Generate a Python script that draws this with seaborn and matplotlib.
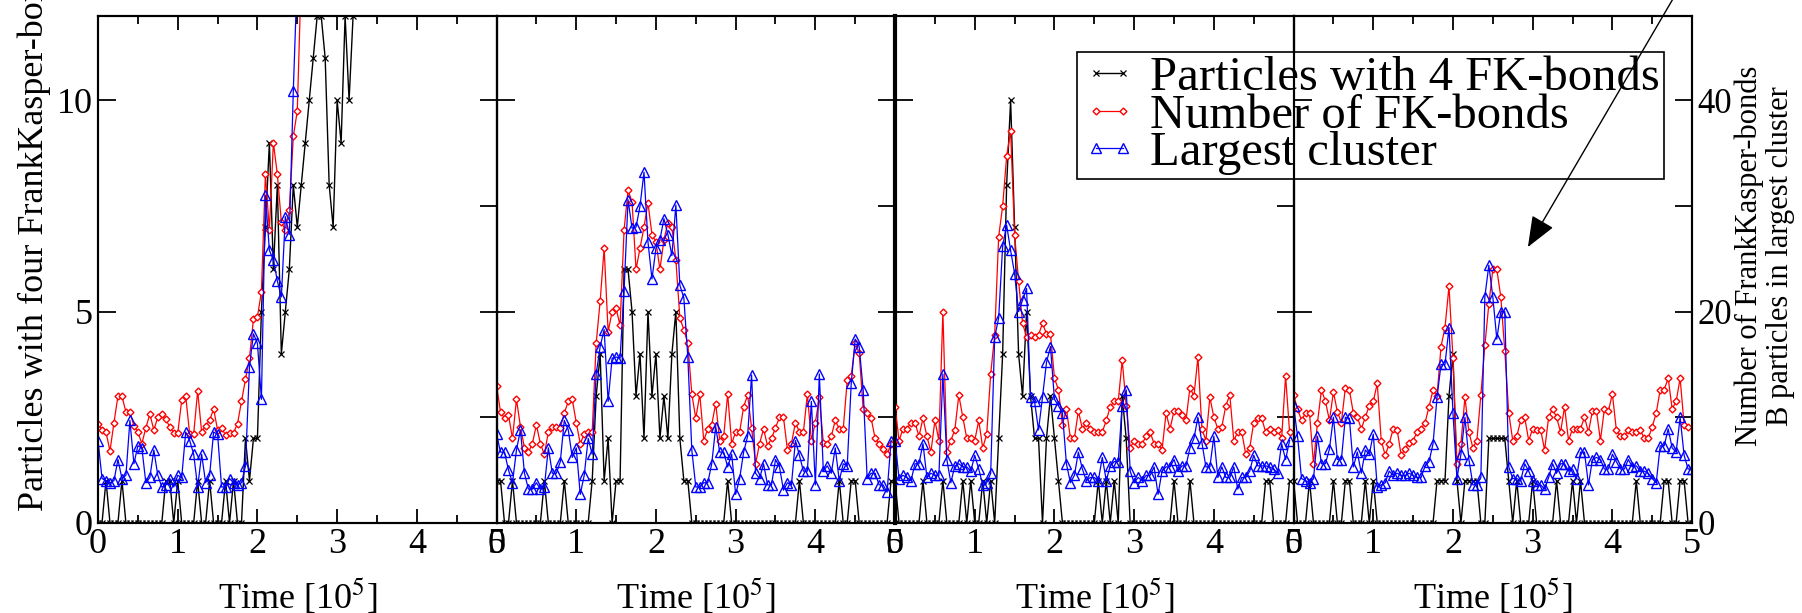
import numpy as np
import matplotlib
matplotlib.use('Agg')
import matplotlib.pyplot as plt
from matplotlib.ticker import MultipleLocator, FixedLocator
import seaborn as sns

plt.rcParams['font.family'] = ['Liberation Serif', 'DejaVu Serif']
plt.rcParams['mathtext.fontset'] = 'stix'
plt.rcParams['axes.linewidth'] = 1.5

DT = 0.05  # sampling step, in units of 1e5 time steps

# ---- panel 1 ----
p1_fk4 = [0, 0, 1, 0, 0, 0, 1, 0, 0, 0, 0, 0, 0, 0, 0, 0, 0, 1, 1, 0,
          1, 0, 0, 0, 0, 1, 0, 0, 1, 0, 0, 0, 1, 0, 1, 0, 0, 2, 1, 2,
          2, 5, 7, 9, 6, 8, 4, 5, 6, 8, 7, 8, 9, 10, 11, 12, 12, 11, 8, 7,
          10, 9, 12, 10, 12]
p1_bonds = [9.4, 8.8, 8.6, 6.8, 9.5, 12, 12, 10.5, 10.5, 9.2,
            8.6, 7.5, 9, 10.3, 8.8, 10, 10.3, 9.8, 9.1, 8.5,
            8.5, 11.6, 12, 8.4, 8.4, 12.5, 8.6, 9.2, 9.7, 10.8,
            8.8, 9, 8.3, 8.5, 8.5, 9.4, 11.5, 13.6, 15.6, 19.3,
            19.5, 21.9, 33, 27.7, 36, 33, 28.5, 27.7, 29.6, 36.6,
            39, 52]
p1_cluster = [7.8, 4.2, 4.0, 3.8, 4.0, 6.0, 4.2, 4.5, 9.7, 5.6,
              7.3, 7.1, 3.8, 4.3, 6.9, 4.5, 3.4, 3.6, 4.2, 3.4,
              4.5, 4.3, 8.6, 7.8, 6.5, 3.4, 6.5, 3.8, 4.5, 8.6,
              8.4, 3.4, 3.4, 4.2, 3.8, 3.6, 3.8, 5.4, 14.8, 17.9,
              17, 11.7, 31, 25.8, 24.9, 22.9, 21.4, 29, 27.3, 40.9,
              52]

# ---- panel 2 ----
p2_fk4 = [1, 1, 0, 0, 1, 0, 0, 0, 0, 0, 0, 0, 1, 0, 0, 0, 0, 1, 0, 0,
          0, 0, 0, 0, 1, 3, 4, 1, 2, 0, 1, 1, 6, 6, 5, 3, 4, 2, 5, 3,
          4, 2, 3, 2, 4, 5, 2, 1, 1, 0, 0, 0, 0, 0, 0, 0, 0, 0, 1, 0,
          0, 0, 0, 0, 0, 0, 0, 0, 0, 0, 0, 0, 0, 0, 0, 0, 1, 0, 0, 0,
          0, 0, 0, 0, 0, 0, 1, 0, 0, 1, 1, 0, 0, 0, 0, 0, 0, 0, 0, 1]
p2_bonds = [13.0, 10.5, 9.9, 10.2, 8.0, 11.7, 9.1, 7.1, 6.7, 7.5,
            9.3, 7.5, 6.5, 8.6, 9.1, 9.1, 9.0, 10.4, 11.5, 11.7,
            9.5, 7.5, 8.4, 8.6, 8.6, 17, 21, 26, 18.1, 20,
            20.3, 18.7, 27.7, 31.5, 30.4, 24, 26, 28, 30.3, 27.3,
            26.6, 24, 26.8, 28.4, 28, 24.9, 19.4, 18.3, 17, 12.2,
            9.9, 12.2, 7.8, 8.9, 9.3, 11.3, 7.8, 8.2, 12.2, 7.5,
            8.6, 8.6, 11.0, 12.1, 9.0, 5.6, 7.5, 8.9, 7.3, 8.0,
            9.0, 10, 10, 6.9, 7.5, 9.5, 8.6, 8.6, 12.2, 7.8,
            9.5, 11.9, 7.6, 7.5, 8.2, 9.7, 8.9, 8.9, 13.5, 13.9,
            17, 16.1, 10.8, 10.4, 9.9, 8.0, 7.5, 7.0, 6.5, 7.5]
p2_cluster = [8.4, 6.7, 6.7, 5.0, 3.8, 6.9, 8.8, 4.7, 3.2, 3.2,
              3.8, 3.2, 3.4, 7.1, 4.7, 4.7, 5.8, 9.7, 8.8, 6.2,
              7.1, 2.7, 4.5, 8.0, 6.5, 14.1, 16.7, 18.3, 11.5, 15.6,
              15.7, 15.6, 22, 30.6, 27.9, 28, 30, 33.2, 26.6, 23.1,
              26, 26.8, 28.8, 27.3, 25.3, 30.1, 22.5, 21.3, 15.7, 6.9,
              3.4, 3.4, 3.8, 3.8, 5.6, 9.1, 6.7, 6.7, 5.3, 6.5,
              2.7, 4.2, 6.7, 8.2, 14.0, 4.7, 4.2, 5.6, 3.6, 3.6,
              6.0, 5.3, 3.1, 3.8, 3.6, 7.8, 6.4, 4.9, 4.9, 11.5,
              3.6, 14.1, 4.9, 5.4, 4.7, 7.1, 4.0, 5.6, 5.4, 13.2,
              17.4, 16.7, 12.6, 4.2, 4.7, 4.7, 3.6, 3.6, 2.9, 7.8]

# ---- panel 3 ----
p3_fk4 = [1, 0, 0, 0, 0, 0, 0, 1, 0, 0, 0, 0, 1, 0, 0, 0, 0, 1, 0, 1,
          0, 0, 1, 0, 1, 0, 2, 4, 8, 10, 7, 4, 3, 5, 3, 2, 2, 0, 2, 3,
          2, 1, 0, 0, 0, 0, 0, 0, 0, 0, 0, 1, 0, 1, 0, 1, 0, 3, 2, 0,
          0, 0, 0, 0, 0, 0, 0, 0, 0, 0, 1, 0, 0, 0, 1, 0, 0, 0, 0, 0,
          0, 0, 0, 0, 0, 0, 0, 0, 0, 0, 0, 0, 0, 1, 1, 0, 0, 0, 0, 1]
p3_bonds = [11.0, 7.8, 8.9, 8.9, 9.5, 9.5, 8.2, 9.9, 8.2, 6.7,
            9.7, 7.8, 20, 6.7, 7.8, 8.8, 12.1, 10, 8.0, 8.0,
            7.8, 9.7, 7.1, 8.4, 14.1, 17.8, 27.1, 30, 34.7, 37.1,
            27.3, 22.9, 18.9, 17.6, 17.8, 17.6, 17.8, 18.9, 17.9, 17.9,
            13.7, 12.6, 9.3, 10.8, 8.0, 8.0, 10.6, 8.9, 9.5, 8.9,
            8.6, 8.6, 8.6, 9.7, 11.0, 11.5, 11.5, 15.4, 11.1, 7.1,
            7.8, 7.5, 7.5, 8.2, 8.6, 7.5, 7.5, 6.9, 10.4, 8.9,
            10.6, 10.6, 10.2, 9.7, 12.8, 12.0, 15.7, 8.9, 7.8, 11.9,
            10.0, 8.9, 9.1, 11.1, 12.1, 7.8, 8.6, 8.6, 6.5, 7.1,
            9.5, 9.9, 9.9, 8.6, 8.9, 8.6, 8.8, 8.0, 13.9, 8.6]
p3_cluster = [7.8, 4.2, 4.5, 4.3, 4.0, 5.6, 5.6, 7.5, 4.3, 4.7,
              4.5, 4.5, 14.1, 6.0, 3.8, 5.4, 5.6, 5.3, 5.3, 4.9,
              6.4, 5.1, 3.6, 3.8, 4.7, 17.6, 19.4, 26.2, 28.2, 25.8,
              23.6, 20, 21.1, 22.2, 11.9, 11.5, 8.8, 11.9, 15.2, 16.7,
              11.7, 11.1, 10.4, 5.6, 3.8, 4.5, 6.7, 5.1, 4.0, 4.3,
              4.3, 4.0, 6.2, 4.0, 5.4, 5.8, 5.8, 11.1, 12.6, 4.9,
              3.8, 4.3, 4.0, 4.5, 4.5, 5.3, 2.7, 4.9, 5.3, 5.3,
              6.0, 4.9, 5.4, 5.4, 7.1, 8.0, 10.0, 7.6, 5.3, 5.3,
              8.2, 4.3, 5.3, 4.3, 4.3, 5.3, 3.2, 4.3, 4.3, 4.9,
              6.4, 5.4, 5.4, 5.4, 5.3, 5.1, 4.7, 7.5, 6.0, 7.8]

# ---- panel 4 ----
p4_fk4 = [1, 0, 0, 0, 1, 0, 0, 0, 0, 0, 1, 0, 0, 1, 1, 0, 0, 0, 1, 0,
          1, 0, 0, 0, 0, 0, 0, 0, 0, 0, 0, 0, 0, 0, 0, 0, 1, 1, 1, 3,
          4, 1, 0, 1, 1, 1, 1, 0, 0, 2, 2, 2, 2, 2, 1, 0, 1, 0, 0, 0,
          1, 0, 0, 0, 0, 0, 1, 0, 0, 0, 1, 0, 1, 0, 0, 0, 0, 0, 0, 0,
          0, 0, 0, 0, 0, 0, 1, 0, 0, 0, 0, 0, 0, 1, 1, 0, 0, 1, 1, 0, 0]
p4_bonds = [12.1, 10.8, 9.7, 10.4, 10.4, 5.6, 9.5, 12.6, 11.5, 9.7,
            12.4, 10.5, 9.5, 12.8, 12.6, 10.4, 10.0, 8.9, 10.0, 11.1,
            11.5, 13.2, 7.8, 6.4, 7.5, 8.9, 8.8, 6.4, 7.0, 7.6,
            7.8, 8.6, 8.9, 9.5, 11.0, 12.6, 12.0, 16.7, 18.5, 22.4,
            15.6, 5.6, 7.5, 11.9, 8.6, 7.1, 7.8, 12.1, 16.8, 20.7,
            24.0, 24.0, 21.4, 16.3, 10.4, 7.8, 8.2, 9.7, 10.0, 7.8,
            8.9, 8.8, 8.8, 6.9, 10.0, 10.8, 10.0, 8.6, 11.0, 7.8,
            8.9, 8.9, 8.9, 10.0, 8.6, 10.6, 10.6, 7.8, 10.8, 10.6,
            12.2, 8.8, 8.2, 8.2, 8.8, 8.6, 8.6, 8.8, 8.0, 8.0,
            9.1, 10.4, 12.6, 12.6, 13.7, 10.8, 11.5, 13.7, 9.3, 9.1]
p4_cluster = [11.1, 8.2, 4.2, 4.0, 3.8, 4.2, 8.2, 5.6, 5.6, 7.0,
              10.0, 6.0, 6.0, 10.0, 9.9, 5.3, 6.7, 4.7, 6.9, 6.5,
              8.4, 3.4, 3.6, 3.8, 4.9, 4.5, 4.7, 4.5, 4.5, 4.7,
              4.5, 4.3, 4.3, 5.4, 5.8, 7.5, 11.9, 15.0, 15.0, 18.5,
              10.4, 4.2, 6.5, 10.0, 6.0, 3.6, 3.6, 4.3, 21.4, 24.4,
              21.4, 17.4, 20, 20, 5.3, 4.2, 4.2, 4.0, 5.6, 4.9,
              4.0, 3.6, 3.6, 3.2, 4.3, 5.6, 4.7, 5.6, 5.6, 4.9,
              5.1, 4.2, 6.7, 6.7, 3.6, 6.0, 6.2, 6.0, 5.1, 5.1,
              6.5, 5.8, 5.1, 5.1, 6.0, 5.3, 5.4, 4.9, 4.9, 4.7,
              4.2, 3.8, 7.3, 7.3, 8.9, 7.1, 6.7, 10.0, 6.4, 5.1,
              5.1]

panels = [(p1_fk4, p1_bonds, p1_cluster),
          (p2_fk4, p2_bonds, p2_cluster),
          (p3_fk4, p3_bonds, p3_cluster),
          (p4_fk4, p4_bonds, p4_cluster)]

labels = ['Particles with 4 FK-bonds', 'Number of FK-bonds', 'Largest cluster']
x_ticks = [0, 1, 2, 3, 4, 5]
left_ticks = [0, 5, 10]
right_ticks = [0, 20, 40]


def times(values):
    return np.arange(len(values)) * DT


fig = plt.figure(figsize=(18.02, 6.13), dpi=100, facecolor='white')
gs = fig.add_gridspec(1, 4, left=0.0544, right=0.939, bottom=0.147,
                      top=0.974, wspace=0)

axes = []
for i, (fk4, bonds, cluster) in enumerate(panels):
    ax = fig.add_subplot(gs[0, i])
    tw = ax.twinx()
    ax.set_facecolor('none')

    sns.lineplot(x=times(fk4), y=fk4, ax=ax, color='black', linewidth=1.0,
                 marker='x', markersize=4, markeredgecolor='black',
                 markeredgewidth=0.9, legend=False, errorbar=None, estimator=None)
    sns.lineplot(x=times(bonds), y=bonds, ax=tw, color='red', linewidth=0.9,
                 marker='D', markersize=3.5, markeredgecolor='red',
                 markerfacecolor='white', markeredgewidth=1.0,
                 legend=False, errorbar=None, estimator=None)
    sns.lineplot(x=times(cluster), y=cluster, ax=tw, color='blue', linewidth=0.9,
                 marker='^', markersize=7, markeredgecolor='blue',
                 markerfacecolor='none', markeredgewidth=1.0,
                 legend=False, errorbar=None, estimator=None)

    ax.set_xlim(0, 5)
    ax.set_ylim(0, 12)
    tw.set_ylim(0, 48)
    ax.set_xticks(x_ticks)
    ax.xaxis.set_minor_locator(MultipleLocator(0.5))
    ax.set_yticks(left_ticks)
    tw.set_yticks(right_ticks)
    tw.yaxis.set_minor_locator(FixedLocator([10, 30]))

    ax.tick_params(axis='x', which='both', direction='in', top=True, bottom=True,
                   width=1.3, labelsize=26, pad=4)
    ax.tick_params(axis='x', which='major', length=10)
    ax.tick_params(axis='x', which='minor', length=6)
    ax.tick_params(axis='y', which='both', direction='in', left=True, right=False,
                   length=13, width=1.3, labelsize=26, pad=4, labelleft=(i == 0))
    tw.tick_params(axis='y', which='both', direction='in', length=12, width=1.3,
                   labelsize=25, pad=4, labelright=(i == 3))

    ax.set_xlabel('Time [10$^5$]', fontsize=26, labelpad=11)
    ax.set_ylabel('')
    tw.set_ylabel('')

    if i == 2:
        ax.spines['left'].set_linewidth(3)
        handles = [ax.lines[0], tw.lines[0], tw.lines[1]]
        leg = tw.legend(handles, labels, loc='upper left',
                        bbox_to_anchor=(0.5977, 0.915), bbox_transform=fig.transFigure,
                        borderaxespad=0, fontsize=35, handlelength=1.17,
                        handletextpad=0.25, labelspacing=-0.13, borderpad=0.08,
                        numpoints=2, fancybox=False, framealpha=1,
                        edgecolor='black')
        leg.get_frame().set_linewidth(1.2)
    axes.append((ax, tw))

ax1 = axes[0][0]
ax1.set_ylabel('Particles with four FrankKasper-bonds', fontsize=26)
ax1.yaxis.set_label_coords(-0.118, 0.5 + (0.623 - 0.5605) / 0.827)

fig.text(0.9795, 0.582, 'Number of FrankKasper-bonds\nB particles in largest cluster',
         rotation=90, ha='center', va='center', multialignment='center',
         fontsize=22, linespacing=1.1)

ax4 = axes[3][0]
ax4.annotate('', xy=(2.94, 6.53), xycoords='data',
             xytext=(0.932, 1.02), textcoords='figure fraction',
             arrowprops=dict(arrowstyle='-|>,head_length=0.4,head_width=0.16',
                             mutation_scale=48, color='black', lw=1,
                             shrinkA=0, shrinkB=0),
             annotation_clip=False)

fig.savefig('out.png', dpi=100, facecolor='white')
